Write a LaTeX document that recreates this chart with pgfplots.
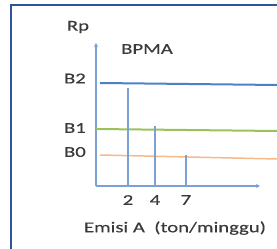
\documentclass[border=0pt]{standalone}
\usepackage{pgfplots}
\pgfplotsset{compat=1.18}
\usepackage{fontspec}
\setmainfont[FakeStretch=1.38, FakeBold=0.4]{Carlito}
\usetikzlibrary{arrows.meta}
\definecolor{axblue}{HTML}{7BA0D4}
\definecolor{bblue}{HTML}{4F7FC7}
\definecolor{bgreen}{HTML}{9BC25A}
\definecolor{borange}{HTML}{F8B98A}
\definecolor{navy}{HTML}{2E5597}
\definecolor{txt}{HTML}{3A3A3A}
\begin{document}
\begin{tikzpicture}
\useasboundingbox (-96pt,-63pt) rectangle (181pt,186pt);
\draw[navy, line width=2.5pt] (-85pt,-70pt) -- (-85pt,181pt) -- (190pt,181pt);
\begin{axis}[
  at={(0pt,0pt)}, anchor=south west,
  scale only axis, width=164pt, height=143pt,
  xmin=0, xmax=164, ymin=0, ymax=143,
  clip=false,
  axis x line=bottom, axis y line=left,
  axis line style={axblue, line width=1.3pt, -{Stealth[length=4pt,width=4pt]}},
  major tick length=0pt,
  xtick={32,59,90}, xticklabels={2,4,7},
  ytick={34,58,107.5}, yticklabels={B0,B1,B2},
  tick label style={font=\fontsize{15}{16}\selectfont, text=txt},
  /pgf/number format/assume math mode=true,
  xticklabel style={anchor=north, inner sep=0pt, yshift=-9pt},
  yticklabel style={anchor=east, inner sep=0pt, xshift=-10pt},
  xlabel={Emisi A\ \ (ton/minggu)},
  xlabel style={at={(axis description cs:0.482,-0.294)}, anchor=center, font=\fontsize{15}{16}\selectfont, text=txt},
  ylabel={Rp},
  ylabel style={at={(axis description cs:-0.11,1.112)}, anchor=center, rotate=-90, font=\fontsize{15}{16}\selectfont, text=txt},
  title={BPMA},
  title style={at={(axis description cs:0.311,0.916)}, anchor=center, font=\fontsize{15}{16}\selectfont, text=txt},
]
\addplot[bblue, line width=2pt] coordinates {(4,103) (181,101)};
\addplot[bgreen, line width=2pt] coordinates {(0,57) (181,55)};
\addplot[borange, line width=1.5pt] coordinates {(4,31) (181,27)};
\addplot[axblue, line width=1.3pt] coordinates {(32,0) (32,98)};
\addplot[axblue, line width=1.3pt] coordinates {(59,0) (59,60)};
\addplot[axblue, line width=1.3pt] coordinates {(90,0) (90,31)};
\end{axis}
\end{tikzpicture}
\end{document}
